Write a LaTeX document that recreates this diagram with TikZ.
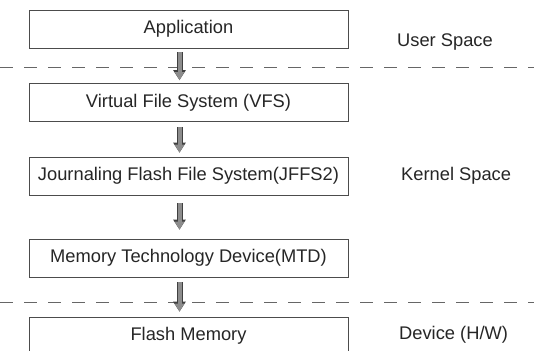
\documentclass[tikz,border=0pt]{standalone}
\usepackage{fontspec}
\setmainfont{Liberation Sans}
\usetikzlibrary{arrows.meta,calc}
\begin{document}
\begin{tikzpicture}[x=1pt,y=-1pt,
  layerbox/.style={draw=black!70, line width=0.7pt, minimum width=319pt, minimum height=38pt, inner sep=0pt,
    text=black!85, font=\fontsize{18.3}{20}\selectfont},
  spacelabel/.style={anchor=west, text=black!85, font=\fontsize{18.3}{20}\selectfont, inner sep=0pt},
  sep/.style={draw=black!60, line width=0.8pt, dash pattern=on 13pt off 11pt},
  fatarr/.style={draw=black!45, line width=4pt, -{Triangle[length=8pt,width=9pt]},
    preaction={draw=black!75, line width=6pt, -{Triangle[length=10pt,width=12pt]}}}
]
\useasboundingbox (0,0) rectangle (534,350);
\clip (0,0) rectangle (534,350);
\fill[white] (0,0) rectangle (534,350);

\node[layerbox] (app) at (188.5,29) {Application};
\node[layerbox] (vfs) at (188.5,102.5) {Virtual File System (VFS)};
\node[layerbox] (jffs) at (188.5,176) {Journaling Flash File System(JFFS2)};
\node[layerbox] (mtd) at (188.5,258) {Memory Technology Device(MTD)};
\node[layerbox] (flash) at (188.5,336) {Flash Memory};

\node[spacelabel] (user) at (397,42) {User Space};
\node[spacelabel] (kernel) at (401,176) {Kernel Space};
\node[spacelabel] (device) at (399,335) {Device (H/W)};

\coordinate (d1l) at (0,67);
\coordinate (d1r) at (534,67);
\coordinate (d2l) at (0,302);
\coordinate (d2r) at (534,302);
\draw[sep] (d1l) -- (d1r);
\draw[sep] (d2l) -- (d2r);

\draw[fatarr] ([xshift=-9pt,yshift=-4pt]app.south) -- ([xshift=-9pt,yshift=3pt]vfs.north);
\draw[fatarr] ([xshift=-9pt,yshift=-5pt]vfs.south) -- ([xshift=-9pt,yshift=4pt]jffs.north);
\draw[fatarr] ([xshift=-9pt,yshift=-8pt]jffs.south) -- ([xshift=-9pt,yshift=9pt]mtd.north);
\draw[fatarr] ([xshift=-9pt,yshift=-5pt]mtd.south) -- ([xshift=-9pt,yshift=5pt]flash.north);
\end{tikzpicture}
\end{document}
